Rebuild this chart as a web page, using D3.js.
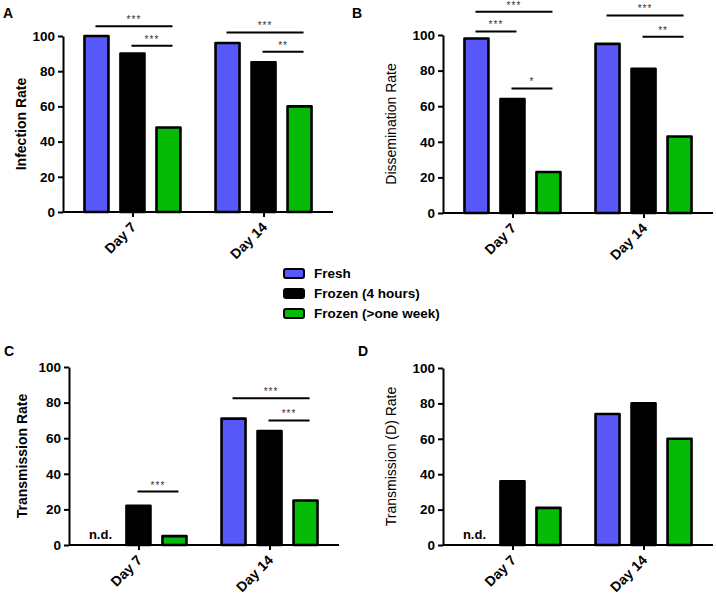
<!DOCTYPE html>
<html><head><meta charset="utf-8">
<script src="https://cdn.jsdelivr.net/npm/d3@7"></script>
<style>body{margin:0;background:#fff;} text{font-family:Arial,"Liberation Sans",sans-serif;}</style>
</head><body>
<svg id="c" width="716" height="596"></svg>
<script>
const groups = ["Day 7", "Day 14"];
const series = ["Fresh", "Frozen (4 hours)", "Frozen (>one week)"];
const colors = ["#5858f8", "#000000", "#05bb05"];
const yTicks = [0, 20, 40, 60, 80, 100];

const infection = [[100, 90, 48], [96, 85, 60]];
const dissemination = [[98, 64, 23], [95, 81, 43]];
const transmission = [[null, 22, 5], [71, 64, 25]];
const transmissionD = [[null, 36, 21], [74, 80, 60]];

// significance: [group, fromSeries, toSeries, y value, label]
const sigA = [[0, 0, 2, 105.5, "***"], [0, 1, 2, 94.5, "***"], [1, 0, 2, 102, "***"], [1, 1, 2, 91, "**"]];
const sigB = [[0, 0, 2, 113, "***"], [0, 0, 1, 102, "***"], [0, 1, 2, 70, "*"], [1, 0, 2, 111, "***"], [1, 1, 2, 99, "**"]];
const sigC = [[0, 1, 2, 30, "***"], [1, 0, 2, 82.5, "***"], [1, 1, 2, 70, "***"]];
const sigD = [];

const panels = [
  {label: "A", title: "Infection Rate", bold: true, data: infection, sig: sigA, x0: 63, y0: 36, y1: 212, lx: 3, ly: 18, tx: 21},
  {label: "B", title: "Dissemination Rate", bold: false, data: dissemination, sig: sigB, x0: 443, y0: 35, y1: 213, lx: 352, ly: 18, tx: 391},
  {label: "C", title: "Transmission Rate", bold: true, data: transmission, sig: sigC, x0: 69, y0: 367, y1: 545, lx: 4, ly: 356, tx: 22},
  {label: "D", title: "Transmission (D) Rate", bold: false, data: transmissionD, sig: sigD, x0: 443, y0: 368, y1: 545, lx: 358, ly: 356, tx: 391}
];

const svg = d3.select("#c");

panels.forEach(p => {
  const W = 270;
  const g = svg.append("g");
  const x = d3.scalePoint().domain(groups).range([p.x0, p.x0 + W]).padding(0.53);
  const xi = d3.scaleBand().domain(series).range([-54, 54]).paddingInner(1/3).paddingOuter(1/6);
  const y = d3.scaleLinear().domain([0, 100]).range([p.y1, p.y0]);

  // bars
  groups.forEach((gr, gi) => {
    series.forEach((s, si) => {
      const v = p.data[gi][si];
      if (v === null) return;
      g.append("rect")
        .attr("x", x(gr) + xi(s))
        .attr("y", y(v))
        .attr("width", xi.bandwidth())
        .attr("height", y(0) - y(v))
        .attr("fill", colors[si])
        .attr("stroke", "#000")
        .attr("stroke-width", 2.6)
        .attr("stroke-linejoin", "round");
    });
    if (p.data[gi][0] === null) {
      g.append("text").attr("x", x(gr) + xi(series[0]) + xi.bandwidth() / 2 - 2).attr("y", y(0) - 6)
        .attr("text-anchor", "middle").attr("font-size", 13).attr("font-weight", "bold").text("n.d.");
    }
  });

  // y axis
  const ya = g.append("g").attr("transform", `translate(${p.x0},0)`)
    .call(d3.axisLeft(y).tickValues(yTicks).tickSize(5).tickSizeOuter(0).tickPadding(3));
  ya.selectAll("path,line").attr("stroke", "#000").attr("stroke-width", 2);
  ya.selectAll("text").attr("font-size", 13.5).attr("font-weight", "bold").attr("fill", "#000")
    .style("font-family", "Arial,'Liberation Sans',sans-serif");

  // x axis
  const xa = g.append("g").attr("transform", `translate(0,${p.y1})`)
    .call(d3.axisBottom(x).tickSize(5).tickSizeOuter(0));
  xa.select("path").attr("d", `M${p.x0},0H${p.x0 + W}`);
  xa.selectAll("path,line").attr("stroke", "#000").attr("stroke-width", 2);
  xa.selectAll("text").attr("font-size", 14).attr("font-weight", "bold").attr("fill", "#000")
    .style("font-family", "Arial,'Liberation Sans',sans-serif")
    .attr("text-anchor", "end").attr("dy", null).attr("y", 0)
    .attr("transform", "translate(4,16) rotate(-45)");

  // y title
  g.append("text")
    .attr("transform", `translate(${p.tx},${(p.y0 + p.y1) / 2}) rotate(-90)`)
    .attr("text-anchor", "middle").attr("dy", "0.35em")
    .attr("font-size", 14).attr("font-weight", p.bold ? "bold" : "normal").text(p.title);

  // panel label
  g.append("text").attr("x", p.lx).attr("y", p.ly).attr("font-size", 14).attr("font-weight", "bold").text(p.label);

  // significance
  p.sig.forEach(([gi, a, b, v, lab]) => {
    const xa1 = x(groups[gi]) + xi(series[a]) + xi.bandwidth() / 2 - 1;
    const xb1 = x(groups[gi]) + xi(series[b]) + xi.bandwidth() / 2 + 4;
    g.append("line").attr("x1", xa1).attr("x2", xb1).attr("y1", y(v)).attr("y2", y(v))
      .attr("stroke", "#000").attr("stroke-width", 2);
    g.append("text").attr("x", (xa1 + xb1) / 2).attr("y", y(v) - 3).attr("text-anchor", "middle")
      .attr("font-size", 10).attr("letter-spacing", 1).attr("fill", "#333").text(lab);
  });
});

// legend
const lg = svg.append("g");
series.forEach((s, i) => {
  const yy = 273 + i * 20;
  lg.append("rect").attr("x", 284).attr("y", yy - 4).attr("width", 20).attr("height", 9).attr("rx", 2)
    .attr("fill", colors[i]).attr("stroke", "#000").attr("stroke-width", 2);
  lg.append("text").attr("x", 314).attr("y", yy).attr("dy", "0.35em").attr("font-size", 13.5)
    .attr("font-weight", "bold").text(s);
});
</script>
</body></html>
